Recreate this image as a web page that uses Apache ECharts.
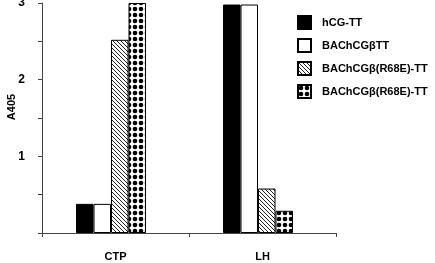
<!DOCTYPE html>
<html>
<head>
<meta charset="utf-8">
<script src="https://cdn.jsdelivr.net/npm/echarts@6/dist/echarts.min.js"></script>
<style>
  html, body { margin: 0; padding: 0; background: #fff; }
  #chart { width: 435px; height: 263px; }
</style>
</head>
<body>
<div id="chart"></div>
<script>
// data
var categories = ['CTP', 'LH'];
var seriesNames = ['hCG-TT', 'BAChCGβTT', 'BAChCGβ(R68E)-TT', 'BAChCGβ(R68E)-TT '];
var hcgTT = [0.38, 2.98];
var bachcgTT = [0.38, 2.98];
var r68eHatch = [2.52, 0.58];
var r68eDots = [3.0, 0.29];

// fill patterns
function hatchPattern() {
  var c = document.createElement('canvas');
  c.width = 4; c.height = 4;
  var g = c.getContext('2d');
  g.fillStyle = '#fff'; g.fillRect(0, 0, 4, 4);
  g.strokeStyle = '#222'; g.lineWidth = 1;
  g.beginPath();
  g.moveTo(-1, -1); g.lineTo(5, 5);
  g.moveTo(-1, 3); g.lineTo(1, 5);
  g.moveTo(3, -1); g.lineTo(5, 1);
  g.stroke();
  return { image: c, repeat: 'repeat' };
}
function dotPattern() {
  var c = document.createElement('canvas');
  c.width = 6; c.height = 6;
  var g = c.getContext('2d');
  g.fillStyle = '#fff'; g.fillRect(0, 0, 6, 6);
  g.fillStyle = '#000';
  g.beginPath();
  g.arc(3, 3, 2.3, 0, Math.PI * 2);
  g.fill();
  return { image: c, repeat: 'repeat' };
}

var fills = ['#000', '#fff', hatchPattern(), dotPattern()];
var values = [hcgTT, bachcgTT, r68eHatch, r68eDots];
var font = '"Liberation Sans", Arial, sans-serif';

var series = values.map(function (d, i) {
  return {
    name: seriesNames[i], type: 'bar', data: d,
    barWidth: 17.5, barGap: '0%',
    itemStyle: { color: fills[i], borderColor: '#000', borderWidth: 1 }
  };
});
// empty spacer so the bar groups sit a little left of the category centre, as in the figure
series.push({ name: 'spacer', type: 'bar', data: [null, null], barWidth: 9, barGap: '0%', silent: true });

var chart = echarts.init(document.getElementById('chart'));
chart.setOption({
  animation: false,
  backgroundColor: '#fff',
  grid: { left: 42, right: 99, top: 3, bottom: 30, outerBoundsMode: 'none', containLabel: false },
  legend: {
    data: seriesNames,
    orient: 'vertical',
    left: 292, top: 10,
    itemWidth: 13, itemHeight: 13, itemGap: 8,
    icon: 'rect',
    formatter: function (n) { return n.trim(); },
    textStyle: { fontFamily: font, fontWeight: 'bold', fontSize: 11, color: '#000', padding: [0, 0, 0, 6] }
  },
  // y-axis title, placed where the figure has it
  graphic: [{
    type: 'text', x: 12, y: 107, rotation: Math.PI / 2,
    style: { text: 'A405', font: 'bold 11px ' + font, fill: '#000', align: 'center', verticalAlign: 'middle' }
  }],
  xAxis: {
    type: 'category', data: categories,
    axisLine: { lineStyle: { color: '#444', width: 1 } },
    axisTick: { show: true, length: 4, lineStyle: { color: '#444' } },
    axisLabel: { fontFamily: font, fontWeight: 'bold', fontSize: 11, color: '#000', margin: 18 }
  },
  yAxis: {
    type: 'value', min: 0, max: 3, interval: 0.5,
    splitLine: { show: false },
    axisLine: { show: true, lineStyle: { color: '#444', width: 1 } },
    axisTick: { show: true, length: 4, lineStyle: { color: '#444' } },
    axisLabel: {
      fontFamily: font, fontWeight: 'bold', fontSize: 12, color: '#000', margin: 17,
      showMaxLabel: true,
      formatter: function (v) { return (v > 0 && v % 1 === 0) ? String(v) : ''; }
    }
  },
  series: series
});
</script>
</body>
</html>
